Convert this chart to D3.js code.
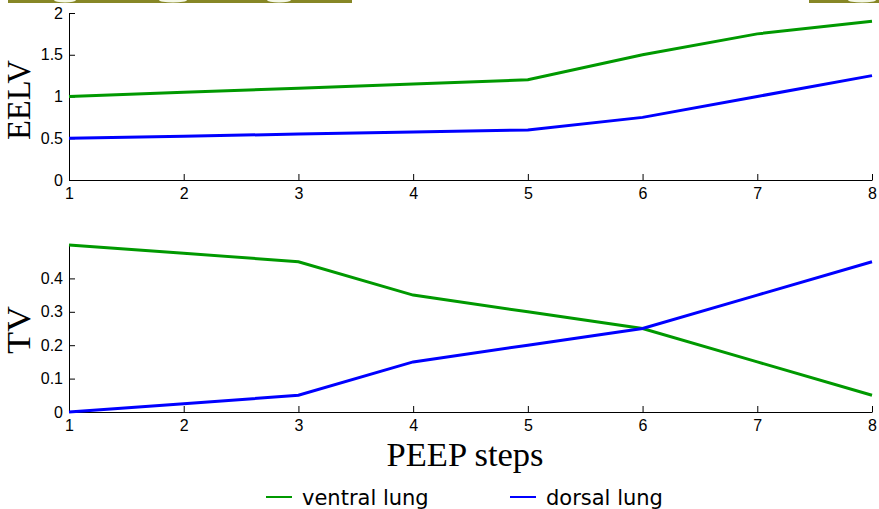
<!DOCTYPE html>
<html>
<head>
<meta charset="utf-8">
<title></title>
<script src="https://cdn.jsdelivr.net/npm/d3@7"></script>
<style>
  body { margin: 0; background: #fff; }
  svg { display: block; }
  .axis text { font-family: "Liberation Sans", Arial, sans-serif; font-size: 16px; fill: #000; }
  .axis path, .axis line { stroke: #000; }
</style>
</head>
<body>
<script>
// data
var steps = [1, 2, 3, 4, 5, 6, 7, 8]
var eelvVentral = [1, 1.05, 1.1, 1.15, 1.2, 1.5, 1.75, 1.9]
var eelvDorsal  = [0.5, 0.525, 0.55, 0.575, 0.6, 0.75, 1.0, 1.25]
var tvVentral = [0.5, 0.475, 0.45, 0.35, 0.3, 0.25, 0.15, 0.05]
var tvDorsal  = [0, 0.025, 0.05, 0.15, 0.2, 0.25, 0.35, 0.45]
var eelvTicks = [0, 0.5, 1, 1.5, 2]
var tvTicks = [0, 0.1, 0.2, 0.3, 0.4]
var seriesNames = ["ventral lung", "dorsal lung"]

var green = "#009900", blue = "#0000ff"
var serif = "'Liberation Serif', 'DejaVu Serif', serif"

var W = 879, H = 509
var svg = d3.select("body").append("svg").attr("width", W).attr("height", H)

// cropped strip at the top edge
var strip = svg.append("g")
strip.append("rect").attr("x", 8).attr("y", 0).attr("width", 344).attr("height", 3).attr("fill", "#878726")
strip.append("rect").attr("x", 809).attr("y", 0).attr("width", 70).attr("height", 3).attr("fill", "#878726")
;[[65, 11], [173, 14], [279, 12], [862, 14]].forEach(function (p) {
  strip.append("ellipse").attr("cx", p[0]).attr("cy", 0).attr("rx", p[1]).attr("ry", 2.5).attr("fill", "#f4f8e6")
})

var x = d3.scaleLinear().domain([1, 8]).range([69, 872])

function panel(top, bottom, domain, ticks, a, b, label, labelY, labelLen) {
  var y = d3.scaleLinear().domain(domain).range([bottom, top])
  svg.append("g").attr("class", "axis")
    .attr("transform", "translate(0," + bottom + ")")
    .call(d3.axisBottom(x).tickValues(steps).tickSizeInner(-6).tickSizeOuter(0).tickPadding(8).tickFormat(d3.format("d")))
  svg.append("g").attr("class", "axis")
    .attr("transform", "translate(69,0)")
    .call(d3.axisLeft(y).tickValues(ticks).tickSizeInner(-6).tickSizeOuter(0).tickPadding(6).tickFormat(function (d) { return d }))

  var line = d3.line().x(function (d, i) { return x(steps[i]) }).y(function (d) { return y(d) })
  svg.append("path").datum(a).attr("d", line).attr("fill", "none").attr("stroke", green).attr("stroke-width", 3)
  svg.append("path").datum(b).attr("d", line).attr("fill", "none").attr("stroke", blue).attr("stroke-width", 3)

  svg.append("text")
    .attr("transform", "translate(30," + labelY + ") rotate(-90)")
    .attr("text-anchor", "middle")
    .attr("font-family", serif)
    .attr("font-size", 34)
    .attr("textLength", labelLen)
    .attr("lengthAdjust", "spacingAndGlyphs")
    .text(label)
}

panel(13, 180, [0, 2], eelvTicks, eelvVentral, eelvDorsal, "EELV", 100, 80)
panel(245, 412, [0, 0.5], tvTicks, tvVentral, tvDorsal, "TV", 330, 48)

svg.append("text")
  .attr("x", 465).attr("y", 466)
  .attr("text-anchor", "middle")
  .attr("font-family", serif)
  .attr("font-size", 34)
  .attr("textLength", 157)
  .attr("lengthAdjust", "spacingAndGlyphs")
  .text("PEEP steps")

// legend
var legend = svg.append("g").selectAll("g").data(seriesNames).enter().append("g")
  .attr("transform", function (d, i) { return "translate(" + (266 + i * 244) + ",497)" })
legend.append("line").attr("x1", 0).attr("x2", 26).attr("y1", 0).attr("y2", 0)
  .attr("stroke", function (d, i) { return i ? blue : green }).attr("stroke-width", 2)
legend.append("text").attr("x", 36).attr("y", 8)
  .attr("font-family", "'DejaVu Sans', sans-serif").attr("font-size", 21)
  .text(function (d) { return d })
</script>
</body>
</html>
